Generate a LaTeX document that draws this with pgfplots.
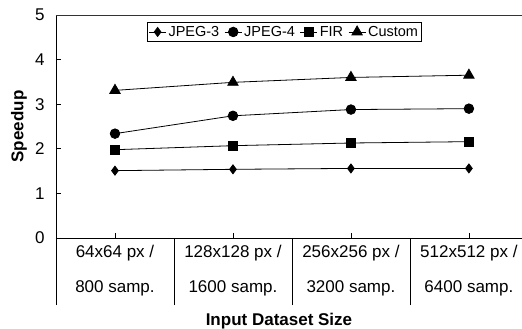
\documentclass[border=0pt]{standalone}
\usepackage{pgfplots}
\pgfplotsset{compat=1.18}
\usepackage{fontspec}
\setmainfont{Liberation Sans}
\begin{document}
\begin{tikzpicture}
\begin{axis}[
  at={(0,0)}, anchor=south west,
  scale only axis,
  width=466pt, height=223pt,
  xmin=0, xmax=3.95,
  ymin=0, ymax=5,
  axis x line=bottom, axis y line=left,
  axis line style={-, black, line width=0.7pt},
  xtick={0.5,1.5,2.5,3.5},
  xticklabels={{64x64 px /\\800 samp.},{128x128 px /\\1600 samp.},{256x256 px /\\3200 samp.},{512x512 px /\\6400 samp.}},
  xticklabel style={align=center, font=\fontsize{17}{35}\selectfont, yshift=-4pt},
  ytick={0,1,2,3,4,5},
  yticklabel style={font=\fontsize{17}{20}\selectfont, xshift=-8pt},
  /pgf/number format/assume math mode=true,
  tick align=inside,
  major tick length=5pt,
  tick style={black, line width=0.6pt},
  extra x ticks={0,1,2,3},
  extra x tick labels={},
  extra x tick style={tick align=outside, major tick length=67pt, tick style={black, line width=0.6pt}},
  every axis y label/.style={at={(axis description cs:-0.0794,0.5)}, rotate=90, anchor=center},
  ylabel={\fontsize{17}{20}\selectfont\bfseries Speedup},
  every axis x label/.style={at={(axis description cs:0.4785,0)}, anchor=base, yshift=-87.5pt},
  xlabel={\fontsize{17}{20}\selectfont\bfseries Input Dataset Size},
  legend columns=4,
  legend style={at={(axis description cs:0.195,0.967)}, anchor=north west,
    font=\fontsize{14.5}{16}\selectfont, draw=black, line width=0.6pt,
    inner sep=1.5pt, row sep=0pt,
    /tikz/every even column/.append style={column sep=3pt}},
  legend cell align=left,
  every axis plot/.append style={black, line width=0.8pt},
]
\addplot[mark=diamond*, mark size=4.5pt, mark options={solid, fill=black}] coordinates {(0.5,1.51) (1.5,1.54) (2.5,1.56) (3.5,1.56)};
\addlegendentry{JPEG-3}
\addplot[mark=*, mark size=4.8pt, mark options={solid, fill=black}] coordinates {(0.5,2.34) (1.5,2.74) (2.5,2.88) (3.5,2.90)};
\addlegendentry{JPEG-4}
\addplot[mark=square*, mark size=4.6pt, mark options={solid, fill=black}] coordinates {(0.5,1.98) (1.5,2.07) (2.5,2.13) (3.5,2.16)};
\addlegendentry{FIR}
\addplot[mark=triangle*, mark size=6pt, mark options={solid, fill=black}] coordinates {(0.5,3.31) (1.5,3.49) (2.5,3.60) (3.5,3.65)};
\addlegendentry{Custom}
\draw[black!80, line width=0.7pt] (rel axis cs:0,1) -- (rel axis cs:1,1);
\end{axis}
\pgfresetboundingbox
\useasboundingbox (-56pt,-91pt) rectangle (466pt,238pt);
\end{tikzpicture}
\end{document}
